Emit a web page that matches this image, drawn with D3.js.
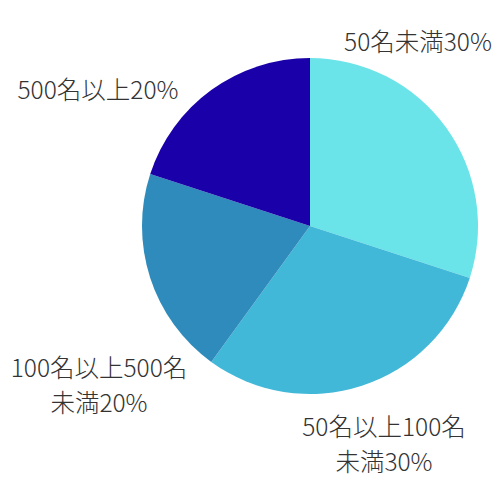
<!DOCTYPE html>
<html>
<head>
<meta charset="utf-8">
<script src="https://d3js.org/d3.v7.min.js"></script>
<style>
  body { margin: 0; background: #fff; }
  text { font-family: "Noto Sans CJK JP", "Noto Sans", sans-serif; font-weight: 300; }
</style>
</head>
<body>
<div id="chart"></div>
<script>
// data
const categories = ["50名未満", "50名以上100名未満", "100名以上500名未満", "500名以上"];
const values = [30, 30, 20, 20];
const labelLines = [
    ["50名未満30%"],
    ["50名以上100名", "未満30%"],
    ["100名以上500名", "未満20%"],
    ["500名以上20%"]
];
const colors = ["#6ae4e8", "#42b8d8", "#2e8bbb", "#1a00a8"];

// size of plot
const width = 500;
const height = 500;
const cx = 310, cy = 226, radius = 168;

// label centre for each slice, relative to pie centre
const labelOffset = [[108, -184], [74, 219], [-211, 160], [-212, -136]];
const lineHeight = 35;

const svg = d3.select("#chart")
    .append("svg")
    .attr("width", width)
    .attr("height", height);

const pie = d3.pie().sort(null).value(d => d);
const arc = d3.arc().innerRadius(0).outerRadius(radius);

const g = svg.append("g").attr("transform", `translate(${cx},${cy})`);

g.selectAll("path")
    .data(pie(values))
    .enter().append("path")
        .attr("d", arc)
        .attr("fill", (d, i) => colors[i]);

// labels
const label = g.selectAll("text")
    .data(labelLines)
    .enter().append("text")
        .attr("text-anchor", "middle")
        .attr("font-size", 24.5)
        .attr("fill", "#333")
        .attr("transform", (d, i) => `translate(${labelOffset[i][0]},${labelOffset[i][1]})`);

label.selectAll("tspan")
    .data(d => d)
    .enter().append("tspan")
        .attr("x", 0)
        .attr("y", (d, j, nodes) => (j - (nodes.length - 1) / 2) * lineHeight)
        .attr("dy", "0.35em")
        .text(d => d);
</script>
</body>
</html>
